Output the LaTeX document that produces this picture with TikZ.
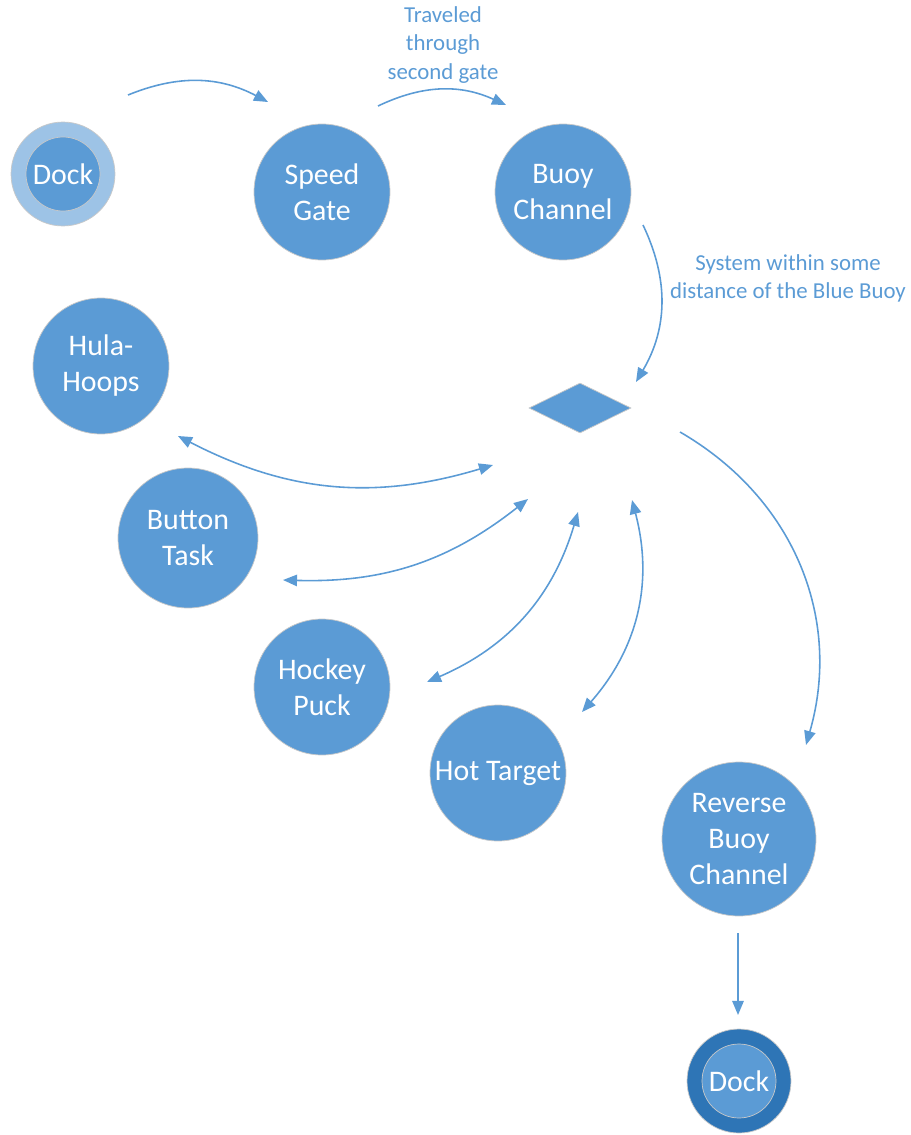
\documentclass[tikz,border=0pt]{standalone}
\usepackage{fontspec}
\setmainfont{Carlito}
\usetikzlibrary{arrows.meta,shapes.geometric}

\definecolor{taskblue}{HTML}{5B9BD5}
\definecolor{docklight}{HTML}{9DC3E6}
\definecolor{dockdark}{HTML}{2E75B6}
\definecolor{rimgray}{HTML}{C8C8C8}

\tikzset{
  task/.style={circle,fill=taskblue,draw=rimgray,line width=0.4pt,
    minimum size=2.72cm,inner sep=0pt,text=white,align=center,
    font=\fontsize{17}{20.5}\selectfont},
  dockring/.style={circle,draw=rimgray,line width=0.4pt,minimum size=2.08cm,inner sep=0pt},
  dockcore/.style={circle,fill=taskblue,draw=rimgray,line width=0.4pt,
    minimum size=1.48cm,inner sep=0pt,text=white,font=\fontsize{17}{20.5}\selectfont},
  flow/.style={draw=taskblue,line width=0.9pt,-{Triangle[length=8pt,width=6.5pt]}},
  twoway/.style={draw=taskblue,line width=0.9pt,{Triangle[length=8pt,width=6.5pt]}-{Triangle[length=8pt,width=6.5pt]}},
  note/.style={text=taskblue,align=center,font=\fontsize{13}{16}\selectfont},
}

\begin{document}
\begin{tikzpicture}[x=0.02cm,y=-0.02cm]

% ===== frame =====
\useasboundingbox (0,0) rectangle (910,1135);

% ===== start and end =====
\node[dockring,fill=docklight] (dockA) at (63,174) {};
\node[dockcore] at (dockA) {Dock};
\node[dockring,fill=dockdark] (dockB) at (739,1081) {};
\node[dockcore] at (dockB) {Dock};

% ===== tasks =====
\node[task] (speed) at (322,192) {Speed\\Gate};
\node[task] (buoy) at (563,192) {Buoy\\Channel};
\node[task] (hula) at (101,366) {Hula-\\Hoops};
\node[task,minimum size=2.8cm] (button) at (188,538) {Button\\Task};
\node[task] (hockey) at (322,687) {Hockey\\Puck};
\node[task] (hot) at (498,773) {Hot Target};
\node[task,minimum size=3.08cm] (reverse) at (739,839) {Reverse\\Buoy\\Channel};

% ===== decision =====
\node[diamond,fill=taskblue,draw=rimgray,line width=0.4pt,minimum width=2.04cm,
  minimum height=1.0cm,inner sep=0pt,aspect=2] (choice) at (580,408) {};

% ===== free ends of the arrows =====
\coordinate (dockA-out) at (128,95);
\coordinate (speed-in) at (268,102);
\coordinate (speed-out) at (378,106);
\coordinate (buoy-in) at (506,105);
\coordinate (buoy-out) at (643,225);
\coordinate (choice-in) at (636,382);
\coordinate (choice-out) at (680,432);
\coordinate (reverse-in) at (806,745);
\coordinate (reverse-out) at (738,933);
\coordinate (dockB-in) at (738,1015);
\coordinate (hula-end) at (178,436);
\coordinate (hula-tip) at (493,465);
\coordinate (button-end) at (283,580);
\coordinate (button-tip) at (528,499);
\coordinate (hockey-end) at (427,682);
\coordinate (hockey-tip) at (578,512);
\coordinate (hot-end) at (582,712);
\coordinate (hot-tip) at (632,500);

% ===== main route =====
\draw[flow] (dockA-out) to[bend left=25] (speed-in);
\draw[flow] (speed-out) to[bend left=25] (buoy-in);
\draw[flow] (buoy-out) to[bend left=28] (choice-in);
\draw[flow] (choice-out) to[bend left=38] (reverse-in);
\draw[flow] (reverse-out) -- (dockB-in);

% ===== side tasks (there and back) =====
\draw[twoway] (hula-end) to[bend right=22] (hula-tip);
\draw[twoway] (button-end) to[bend right=20] (button-tip);
\draw[twoway] (hockey-end) to[bend right=25] (hockey-tip);
\draw[twoway] (hot-end) to[bend right=28] (hot-tip);

% ===== labels =====
\node[note] (gate-note) at (443,45) {Traveled\\through\\second gate};
\node[note] (buoy-note) at (788,278) {System within some\\distance of the Blue Buoy};

\end{tikzpicture}
\end{document}
